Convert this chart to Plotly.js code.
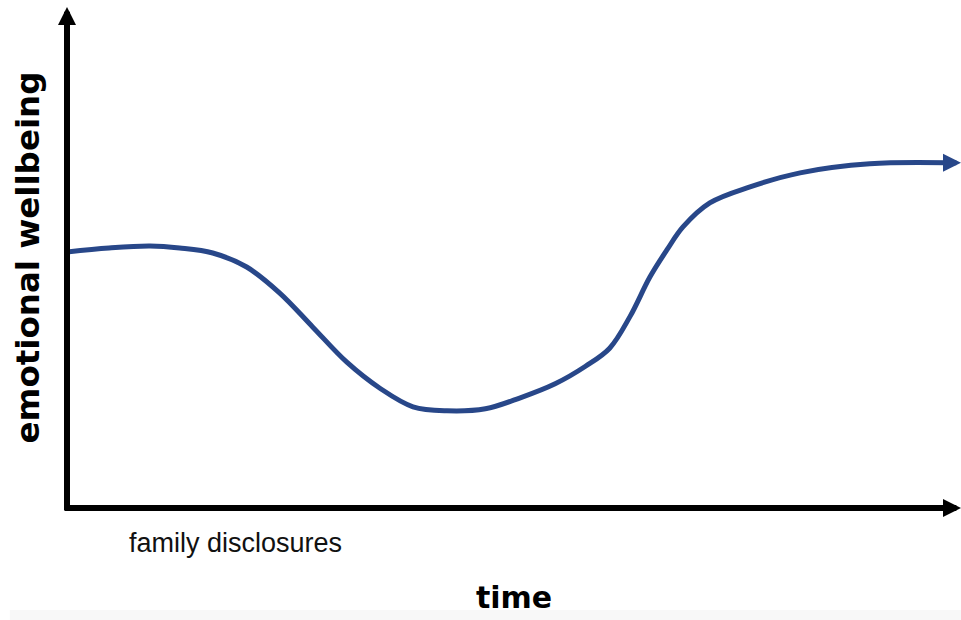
<!DOCTYPE html>
<html>
<head>
<meta charset="utf-8">
<script src="https://cdn.plot.ly/plotly-3.0.1.min.js"></script>
<style>html,body{margin:0;padding:0;background:#fff;}#chart{width:961px;height:620px;}</style>
</head>
<body>
<div id="chart"></div>
<script>
// time (0-100) and emotional wellbeing (0-100)
const timeValues = [0, 4.7, 9.3, 12.6, 16.3, 20.1, 23.8, 27.5, 31.3, 35.0, 38.7, 42.5, 46.8, 50.7, 54.6, 58.0, 60.7, 63.0, 65.2, 67.1, 68.9, 71.9, 76.4, 82.0, 89.8, 98.4, 100];
const wellbeingValues = [51.1, 51.9, 52.3, 51.9, 50.9, 48.1, 42.9, 36.1, 29.1, 23.9, 20.2, 19.4, 19.8, 22.0, 24.8, 28.3, 31.9, 38.3, 46.1, 51.5, 56.1, 60.9, 64.1, 66.9, 68.7, 68.9, 68.9];
const eventLabel = 'family disclosures';
const xTitle = 'time';
const yTitle = 'emotional wellbeing';

const n = timeValues.length;
const curveColor = '#284789';

const trace = {
  x: timeValues.slice(0, n - 1),
  y: wellbeingValues.slice(0, n - 1),
  mode: 'lines',
  line: {color: curveColor, width: 5, shape: 'spline', smoothing: 1},
  hoverinfo: 'skip',
  showlegend: false
};

const layout = {
  width: 961, height: 620,
  margin: {l: 67, r: 0, t: 7, b: 112, pad: 0},
  paper_bgcolor: '#ffffff', plot_bgcolor: '#ffffff',
  xaxis: {range: [0, 100], showgrid: false, zeroline: false, showline: false, showticklabels: false, ticks: '',
    title: {text: xTitle, font: {family: 'DejaVu Sans', size: 30, weight: 'bold', color: '#000'}, standoff: 78}},
  yaxis: {range: [0, 100], showgrid: false, zeroline: false, showline: false, showticklabels: false, ticks: '',
    title: {text: yTitle, font: {family: 'DejaVu Sans', size: 32.5, weight: 'bold', color: '#000'}, standoff: 16}},
  shapes: [
    {type: 'rect', xref: 'paper', yref: 'paper', x0: -0.064, x1: 1.0, y0: -0.2036, y1: -0.23, fillcolor: '#f8f8f8', line: {width: 0}, layer: 'below'}
  ],
  annotations: [
    // y axis arrow
    {x: 0, y: 100, ax: 0, ay: -0.8, xref: 'x', yref: 'y', axref: 'x', ayref: 'y', text: '', showarrow: true,
     arrowhead: 2, arrowsize: 0.6, arrowwidth: 6, arrowcolor: '#000', standoff: 0},
    // x axis arrow
    {x: 100, y: 0, ax: -0.4, ay: 0, xref: 'x', yref: 'y', axref: 'x', ayref: 'y', text: '', showarrow: true,
     arrowhead: 2, arrowsize: 0.6, arrowwidth: 6, arrowcolor: '#000', standoff: 0},
    // curve arrowhead
    {x: timeValues[n - 1], y: wellbeingValues[n - 1], ax: timeValues[n - 2], ay: wellbeingValues[n - 2],
     xref: 'x', yref: 'y', axref: 'x', ayref: 'y', text: '', showarrow: true,
     arrowhead: 2, arrowsize: 0.72, arrowwidth: 5, arrowcolor: curveColor, standoff: 0},
    // event label
    {x: 0.188, y: -0.07, xref: 'paper', yref: 'paper', text: eventLabel, showarrow: false,
     xanchor: 'center', yanchor: 'middle', font: {family: 'Liberation Sans', size: 27, color: '#111'}}
  ]
};

Plotly.newPlot('chart', [trace], layout, {displayModeBar: false, staticPlot: true});
</script>
</body>
</html>
